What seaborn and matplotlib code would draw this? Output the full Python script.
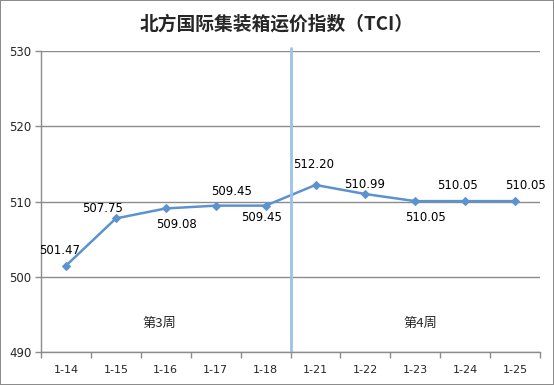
import matplotlib
matplotlib.use("Agg")
import matplotlib.pyplot as plt
import seaborn as sns
import numpy as np
import pandas as pd

dates = ["1-14", "1-15", "1-16", "1-17", "1-18", "1-21", "1-22", "1-23", "1-24", "1-25"]
values = [501.47, 507.75, 509.08, 509.45, 509.45, 512.20, 510.99, 510.05, 510.05, 510.05]
label_texts = ["501.47", "507.75", "509.08", "509.45", "509.45", "512.20", "510.99", "510.05", "510.05", "510.05"]
week_labels = ["第3周", "第4周"]
title = "北方国际集装箱运价指数（TCI）"

sns.set_theme(style="white")
plt.rcParams['font.family'] = ['Noto Sans CJK SC', 'DejaVu Sans']

fig = plt.figure(figsize=(5.54, 3.85), dpi=100, linewidth=1.2, edgecolor="#8c8c8c")
ax = fig.add_axes([0.074, 0.0857, 0.901, 0.7818])

df = pd.DataFrame({"pos": np.arange(len(dates)), "val": values})
sns.lineplot(data=df, x="pos", y="val", ax=ax, color="#5B93CF", marker="D",
             markersize=4, markeredgecolor="#5B93CF", linewidth=1.8, sort=False)

ax.set_xlim(-0.5, len(dates) - 0.5)
ax.set_ylim(490, 530)
ax.set_yticks([490, 500, 510, 520, 530])
ax.yaxis.grid(True, color="#8c8c8c", linewidth=1)
ax.set_axisbelow(True)

ax.set_xticks(np.arange(len(dates)))
ax.set_xticklabels(dates, fontsize=8, family=['DejaVu Sans'])
ax.set_xticks(np.arange(len(dates) + 1) - 0.5, minor=True)
ax.tick_params(axis="x", which="major", length=0, pad=9)
ax.tick_params(axis="x", which="minor", length=4, color="#8c8c8c", width=1, direction="out", bottom=True)
ax.tick_params(axis="y", which="major", length=4, color="#8c8c8c", width=1, direction="out", left=True, labelsize=8.5, pad=3)
for lab in ax.get_yticklabels():
    lab.set_family(['DejaVu Sans'])

ax.set_xlabel("")
ax.set_ylabel("")
for s in ["top", "right"]:
    ax.spines[s].set_visible(False)
for s in ["left", "bottom"]:
    ax.spines[s].set_color("#8c8c8c")
    ax.spines[s].set_linewidth(1)

# week divider
ax.axvline(4.5, ymin=0, ymax=1.01, color="#9DC3E6", linewidth=2, clip_on=False)

offsets = [(-6, 15), (-13, 10), (11, -16), (16, 14), (-4, -12), (-2, 20), (-1, 10), (10, -16), (-8, 16), (10, 16)]
for i, (v, t, off) in enumerate(zip(values, label_texts, offsets)):
    ax.annotate(t, (i, v), xytext=off, textcoords="offset pixels", ha="center", va="center",
                fontsize=8.5, family=['DejaVu Sans'], color="#000000")

ax.text(1.88, 493.85, week_labels[0], ha="center", va="center", fontsize=9.5)
ax.text(7.1, 493.85, week_labels[1], ha="center", va="center", fontsize=9.5)

fig.text(0.5, 0.938, title, ha="center", va="center", fontsize=13.5, fontweight="bold")

fig.savefig("out.png", dpi=100, edgecolor=fig.get_edgecolor())
